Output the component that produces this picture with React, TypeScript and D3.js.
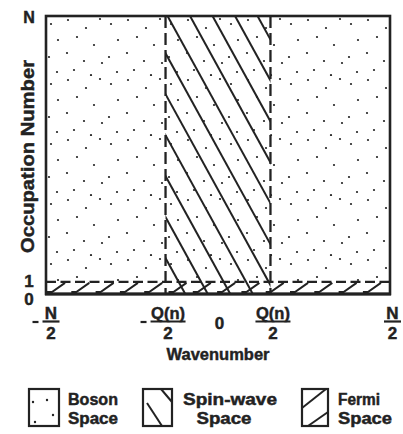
import React from "react";
import * as d3 from "d3";

// ---- data ----
const Q_HALF = 0.305; // Q(n)/2 in units of N/2
const xDomain = [-1, 1];
const yDomain = [0, 23]; // 0 .. N (axis not to scale)
const xTickValues = [-1, -Q_HALF, 0, Q_HALF, 1];
const xTickNums = ["N", "Q(n)", "0", "Q(n)", "N"];
const xTickDens = ["2", "2", "", "2", "2"];
const xTickNeg = [true, true, false, false, false];
const yTickValues = [0, 1, 23];
const yTickLabels = ["0", "1", "N"];
const bosonRegions = [[-1, -Q_HALF], [Q_HALF, 1]];
const spinRegion = [-Q_HALF, Q_HALF];
const fermiRegion = [0, 1];
const legendNames = ["boson", "spin", "fermi"];
const legendLine1 = ["Boson", "Spin-wave", "Fermi"];
const legendLine2 = ["Space", "Space", "Space"];

const W = 403, H = 434;
const M = { left: 46, right: 13, top: 16, bottom: 140 };
const FONT = "'Liberation Sans', Arial, sans-serif";
const INK = "#222";

// stipple tile dot offsets (texture)
const stipple = [
  [5, 8], [22, 4], [40, 12], [54, 3], [12, 24], [31, 21], [48, 29],
  [3, 41], [21, 37], [38, 45], [56, 47], [11, 56], [28, 54], [45, 59],
];

export default function App() {
  const x = d3.scaleLinear().domain(xDomain).range([M.left, W - M.right]);
  const y = d3.scaleLinear().domain(yDomain).range([H - M.bottom, M.top]);
  const x0 = x(-1), x1 = x(1), y0 = y(0), yN = y(23);

  const sx0 = x(spinRegion[0]), sx1 = x(spinRegion[1]);
  const slope = 1.82, spacing = 22.5;
  const spinLines = d3.range(-9, 6).map((k) => {
    const xa = sx0 + 2 + k * spacing;
    return { xa, ya: yN, xb: xa + (y0 - yN) / slope, yb: y0 };
  });

  const fermiStarts = d3.range(x0 + 6, x1 - 8, 24.3);
  const fy0 = y(fermiRegion[0]), fy1 = y(fermiRegion[1]);

  const txt = { stroke: INK, strokeWidth: 0.45 };

  return (
    <svg width={W} height={H} style={{ position: "absolute", left: 0, top: 0, background: "#fff" }}
      fontFamily={FONT} fontWeight="bold" fill={INK}>
      <defs>
        <pattern id="dots" patternUnits="userSpaceOnUse" width={60} height={60} x={x0} y={yN}>
          {stipple.map(([a, b], i) => (
            <circle key={i} cx={a} cy={b} r={1.1} fill={INK} />
          ))}
        </pattern>
        <clipPath id="spinClip">
          <rect x={sx0} y={yN} width={sx1 - sx0} height={y0 - yN} />
        </clipPath>
        <clipPath id="plotClip">
          <rect x={x0} y={yN} width={x1 - x0} height={y0 - yN} />
        </clipPath>
      </defs>

      {/* stipple over boson & spin-wave space */}
      {[...bosonRegions, spinRegion].map(([a, b], i) => (
        <rect key={i} x={x(a)} y={yN} width={x(b) - x(a)} height={fy1 - yN} fill="url(#dots)" />
      ))}

      {/* spin-wave hatching */}
      <g clipPath="url(#spinClip)" stroke={INK} strokeWidth={2}>
        {spinLines.map((l, i) => (
          <line key={i} x1={l.xa} y1={l.ya} x2={l.xb} y2={l.yb} />
        ))}
      </g>

      {/* fermi hatching */}
      <g clipPath="url(#plotClip)" stroke={INK} strokeWidth={2} fill="none">
        {fermiStarts.map((s, i) => (
          <path key={i} d={`M${s - 5},${fy0 - 2} L${s},${fy0 - 2} L${s + 13},${fy1 + 1}`} />
        ))}
      </g>
      <line x1={x0} x2={x1} y1={fy1} y2={fy1} stroke={INK} strokeWidth={2.2} strokeDasharray="10 4.5" />

      {/* dashed region boundaries */}
      {[spinRegion[0], spinRegion[1]].map((v, i) => (
        <line key={i} x1={x(v)} x2={x(v)} y1={yN} y2={y0} stroke={INK} strokeWidth={2.3} strokeDasharray="12 5" />
      ))}

      {/* frame */}
      <rect x={x0} y={yN} width={x1 - x0} height={y0 - yN} fill="none" stroke={INK} strokeWidth={2.6} />
      <line x1={x0 - 1} x2={x1 + 1} y1={y0} y2={y0} stroke={INK} strokeWidth={3.2} />

      {/* y tick labels */}
      {yTickValues.map((v, i) => (
        <text key={i} {...txt} x={29} y={v === 23 ? y(v) + 6.5 : v === 1 ? y(v) + 5.5 : y(v) + 10.5}
          textAnchor="middle" fontSize={v === 23 ? 16 : 17}>{yTickLabels[i]}</text>
      ))}

      {/* x tick labels */}
      {xTickValues.map((v, i) => {
        const cx = x(v) + (i === 0 ? 5 : 2.5);
        if (!xTickDens[i]) {
          return <text key={i} {...txt} x={cx - 1} y={328.5} textAnchor="middle" fontSize={17}>{xTickNums[i]}</text>;
        }
        const long = xTickNums[i].length > 1;
        const bw = long ? 35 : 17;
        return (
          <g key={i}>
            <text {...txt} x={cx} y={319} textAnchor="middle" fontSize={17}
              textLength={long ? 34 : undefined} lengthAdjust="spacingAndGlyphs">{xTickNums[i]}</text>
            <line x1={cx - bw / 2} x2={cx + bw / 2} y1={321.5} y2={321.5} stroke={INK} strokeWidth={2.2} />
            <text {...txt} x={cx} y={338.5} textAnchor="middle" fontSize={17}>{xTickDens[i]}</text>
            {xTickNeg[i] && (
              <line x1={cx - bw / 2 - 10} x2={cx - bw / 2 - 4} y1={322} y2={322} stroke={INK} strokeWidth={2.2} />
            )}
          </g>
        );
      })}

      {/* axis titles */}
      <text {...txt} x={218} y={360} textAnchor="middle" fontSize={17} textLength={103} lengthAdjust="spacingAndGlyphs">Wavenumber</text>
      <text {...txt} transform={`translate(33.5,156.5) rotate(-90)`} textAnchor="middle" fontSize={18}
        textLength={193} lengthAdjust="spacingAndGlyphs">Occupation Number</text>

      {/* legend */}
      {legendNames.map((name, i) => {
        const bx = [29, 143, 302][i];
        const bw = [30, 29, 26][i];
        const by = 389, bh = 37;
        const tx = [68, 230, 338][i];
        const anchor = i === 1 ? "middle" : "start";
        const l1 = [50, 94, 42][i];
        const l2 = [50, 55, 54][i];
        return (
          <g key={name}>
            <rect x={bx} y={by} width={bw} height={bh} fill="none" stroke={INK} strokeWidth={2.2} />
            {name === "boson" && [[4, 13], [18, 11], [24, 26], [6, 33]].map(([a, b], j) => (
              <circle key={j} cx={bx + a} cy={by + b} r={1.2} fill={INK} />
            ))}
            {name === "spin" && (
              <g stroke={INK} strokeWidth={2}>
                <line x1={bx + 4} y1={by + 14} x2={bx + 19} y2={by + bh} />
                <line x1={bx + 18} y1={by} x2={bx + bw} y2={by + 13} />
              </g>
            )}
            {name === "fermi" && (
              <g stroke={INK} strokeWidth={2}>
                <line x1={bx} y1={by + 19} x2={bx + 24} y2={by} />
                <line x1={bx + 6} y1={by + bh} x2={bx + bw} y2={by + 23} />
              </g>
            )}
            <text {...txt} x={tx} y={404.5} textAnchor={anchor} fontSize={16} textLength={l1} lengthAdjust="spacingAndGlyphs">{legendLine1[i]}</text>
            <text {...txt} x={i === 1 ? 224 : tx} y={423.5} textAnchor={anchor} fontSize={16} textLength={l2} lengthAdjust="spacingAndGlyphs">{legendLine2[i]}</text>
          </g>
        );
      })}
    </svg>
  );
}
